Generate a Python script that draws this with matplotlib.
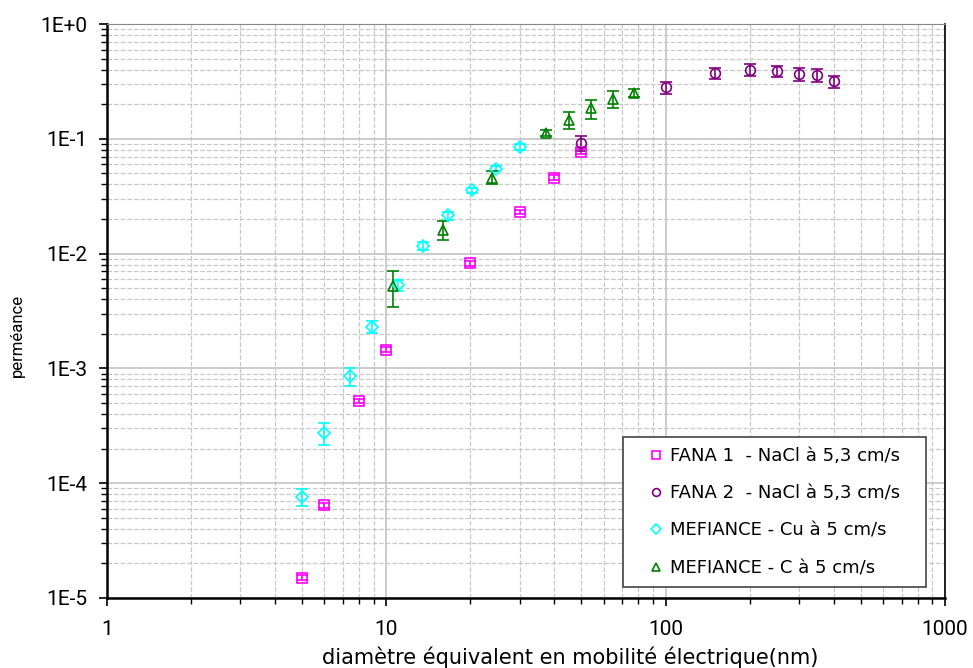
import numpy as np
import matplotlib.pyplot as plt
from matplotlib.ticker import LogLocator, NullFormatter, FixedLocator

# FANA 1 - NaCl
fana1_x = [5, 6, 8, 10, 20, 30, 40, 50]
fana1_y = [1.5e-5, 6.4e-5, 5.2e-4, 1.45e-3, 8.2e-3, 2.3e-2, 4.6e-2, 7.7e-2]
fana1_err = [0.08e-5, 0.3e-5, 0.25e-4, 0.07e-3, 0.4e-3, 0.1e-2, 0.2e-2, 0.4e-2]

# FANA 2 - NaCl
fana2_x = [50, 100, 150, 200, 250, 300, 350, 400]
fana2_y = [0.092, 0.28, 0.372, 0.40, 0.388, 0.365, 0.36, 0.316]
fana2_err = [0.013, 0.035, 0.04, 0.05, 0.045, 0.045, 0.046, 0.04]

# MEFIANCE - Cu
cu_x = [5, 6, 7.4, 8.9, 11, 13.5, 16.6, 20.3, 24.8, 30]
cu_y = [7.6e-5, 2.75e-4, 8.5e-4, 2.31e-3, 5.3e-3, 1.16e-2, 2.15e-2, 3.56e-2, 5.5e-2, 8.5e-2]
cu_err = [1.25e-5, 0.6e-4, 1.5e-4, 0.28e-3, 0.55e-3, 0.9e-3, 1.7e-3, 2e-3, 3e-3, 5e-3]

# MEFIANCE - C
c_x = [10.6, 16, 24, 37.4, 45, 54, 65, 77]
c_y = [5.2e-3, 1.62e-2, 4.6e-2, 0.112, 0.147, 0.185, 0.222, 0.25]
c_err = [1.8e-3, 3.2e-3, 6e-3, 7e-3, 0.025, 0.035, 0.038, 0.02]

y_ticks = [1e-5, 1e-4, 1e-3, 1e-2, 1e-1, 1]
y_labels = ["1E-5", "1E-4", "1E-3", "1E-2", "1E-1", "1E+0"]
x_ticks = [1, 10, 100, 1000]
x_labels = ["1", "10", "100", "1000"]

series = [
    (fana1_x, fana1_y, fana1_err, "s", "#ff00ff", "FANA 1  - NaCl à 5,3 cm/s"),
    (fana2_x, fana2_y, fana2_err, "o", "#800080", "FANA 2  - NaCl à 5,3 cm/s"),
    (cu_x, cu_y, cu_err, "D", "#00ffff", "MEFIANCE - Cu à 5 cm/s"),
    (c_x, c_y, c_err, "^", "#008000", "MEFIANCE - C à 5 cm/s"),
]

plt.rcParams["font.family"] = ["DejaVu Sans"]
fig = plt.figure(figsize=(9.73, 6.68), dpi=100)
ax = fig.add_axes([0.110, 0.105, 0.861, 0.859])

for xs, ys, err, mk, col, lab in series:
    ms = 6 if mk == "D" else 7
    ax.errorbar(xs, ys, yerr=err, fmt="none", ecolor=col, elinewidth=1.2,
                capsize=4, capthick=1.2, zorder=4)
    ax.plot(xs, ys, ls="none", marker=mk, markersize=ms, markerfacecolor="none",
            markeredgecolor=col, markeredgewidth=1.2, label=lab, zorder=5)

ax.set_xscale("log")
ax.set_yscale("log")
ax.set_xlim(1, 1000)
ax.set_ylim(1e-5, 1)

ax.xaxis.set_major_locator(FixedLocator(x_ticks))
ax.set_xticklabels(x_labels, family="Roboto")
ax.yaxis.set_major_locator(FixedLocator(y_ticks))
ax.set_yticklabels(y_labels, family="Roboto")
ax.xaxis.set_minor_locator(LogLocator(base=10, subs=np.arange(2, 10), numticks=20))
ax.yaxis.set_minor_locator(LogLocator(base=10, subs=np.arange(2, 10), numticks=20))
ax.xaxis.set_minor_formatter(NullFormatter())
ax.yaxis.set_minor_formatter(NullFormatter())

ax.tick_params(which="major", direction="out", length=6, width=1.2, labelsize=15, pad=8)
ax.tick_params(axis="x", which="major", pad=10)
ax.tick_params(which="minor", direction="out", length=4, width=1)

ax.grid(True, which="major", color="#c4c4c4", linestyle="-", linewidth=1.2)
ax.grid(True, which="minor", color="#c8c8c8", linestyle="--", linewidth=0.9)
ax.set_axisbelow(True)

for side in ["left", "bottom"]:
    ax.spines[side].set_linewidth(1.8)
    ax.spines[side].set_color("black")
ax.spines["right"].set_linewidth(1.2)
ax.spines["top"].set_color("#888888")

ax.set_xlabel("diamètre équivalent en mobilité électrique(nm)", fontsize=15)
ax.set_ylabel("perméance", fontsize=12, family="Roboto")
ax.xaxis.set_label_coords(0.553, -0.085)
ax.yaxis.set_label_coords(-0.098, 0.458)

leg = ax.legend(loc="lower left", bbox_to_anchor=(0.616, 0.019, 0.362, 0.263),
                mode="expand", borderaxespad=0,
                fontsize=13, handlelength=2.6, handletextpad=-0.55, labelspacing=1.07,
                borderpad=0.55, fancybox=False, framealpha=1, markerscale=0.8)
leg.get_frame().set_edgecolor("#444444")
leg.get_frame().set_linewidth(1.2)

fig.savefig("out.png", dpi=100)
